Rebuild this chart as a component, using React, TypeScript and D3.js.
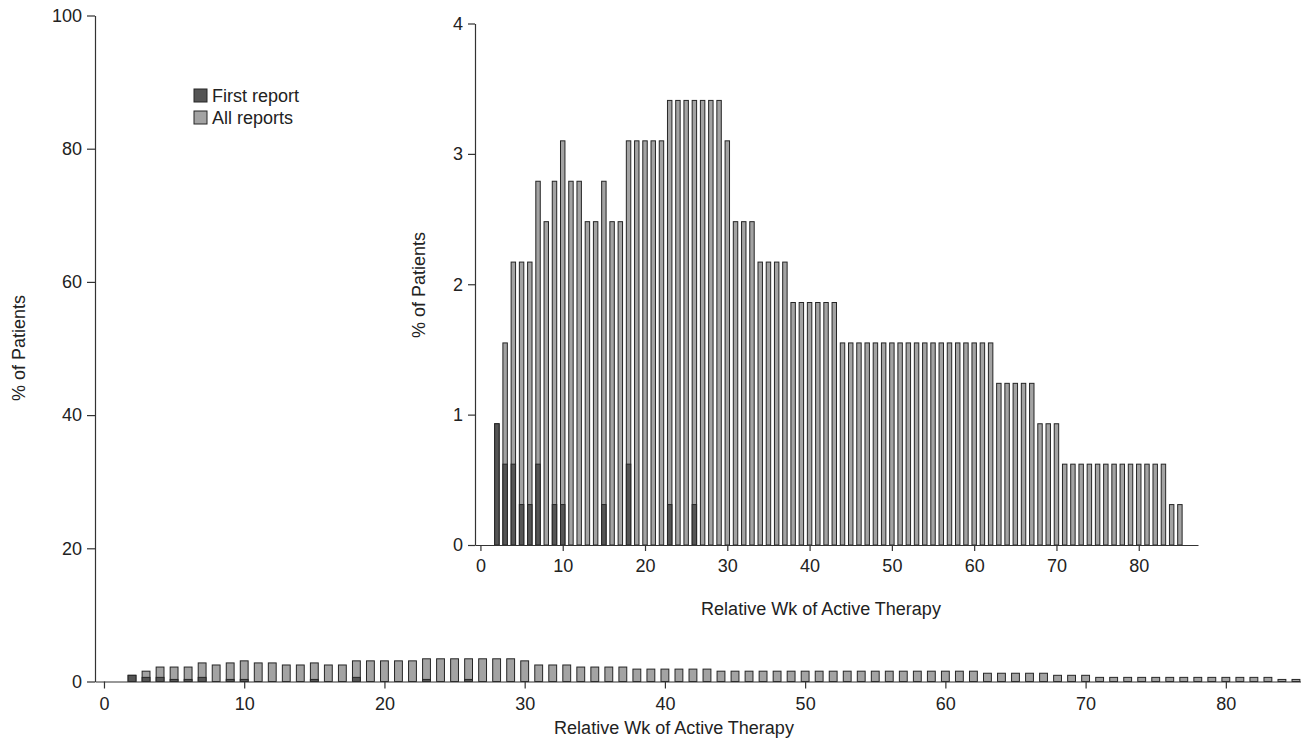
import * as d3 from "d3";
import { useEffect, useRef } from "react";

// weekly % of patients, weeks 2..85
const firstWeek = 2;
const allReports = [
  0.93, 1.55, 2.17, 2.17, 2.17, 2.79, 2.48, 2.79, 3.1, 2.79, 2.79, 2.48, 2.48, 2.79, 2.48, 2.48,
  3.1, 3.1, 3.1, 3.1, 3.1, 3.41, 3.41, 3.41, 3.41, 3.41, 3.41, 3.41, 3.1, 2.48, 2.48, 2.48,
  2.17, 2.17, 2.17, 2.17, 1.86, 1.86, 1.86, 1.86, 1.86, 1.86,
  1.55, 1.55, 1.55, 1.55, 1.55, 1.55, 1.55, 1.55, 1.55, 1.55, 1.55, 1.55, 1.55, 1.55, 1.55, 1.55,
  1.55, 1.55, 1.55, 1.24, 1.24, 1.24, 1.24, 1.24, 0.93, 0.93, 0.93,
  0.62, 0.62, 0.62, 0.62, 0.62, 0.62, 0.62, 0.62, 0.62, 0.62, 0.62, 0.62, 0.62, 0.31, 0.31,
];
const firstReport = [
  0.93, 0.62, 0.62, 0.31, 0.31, 0.62, 0, 0.31, 0.31, 0, 0, 0, 0, 0.31, 0, 0,
  0.62, 0, 0, 0, 0, 0.31, 0, 0, 0.31, 0, 0, 0, 0, 0, 0, 0,
  0, 0, 0, 0, 0, 0, 0, 0, 0, 0,
  0, 0, 0, 0, 0, 0, 0, 0, 0, 0, 0, 0, 0, 0, 0, 0,
  0, 0, 0, 0, 0, 0, 0, 0, 0, 0, 0,
  0, 0, 0, 0, 0, 0, 0, 0, 0, 0, 0, 0, 0, 0, 0,
];
const seriesNames = ["First report", "All reports"];
const xTicks = [0, 10, 20, 30, 40, 50, 60, 70, 80];
const mainYTicks = [0, 20, 40, 60, 80, 100];
const insetYTicks = [0, 1, 2, 3, 4];
const xTitle = "Relative Wk of Active Therapy";
const yTitle = "% of Patients";

const FONT = "'Liberation Sans', Arial, Helvetica, sans-serif";
const ALL_FILL = "#a3a3a3";
const FIRST_FILL = "#555555";
const STROKE = "#262626";
const INK = "#222222";

type Panel = {
  xDomain: [number, number];
  xRange: [number, number];
  yDomain: [number, number];
  yRange: [number, number];
  yTicks: number[];
  barWidth: number;
  xTickSize: number;
  xTickPadding: number;
  yTickSize: number;
  yTickPadding: number;
  xTitlePos: [number, number];
  yTitlePos: [number, number];
};

function styleAxis(g) {
  g.attr("font-family", FONT).attr("font-size", 18);
  g.selectAll("path").attr("stroke", "#333").attr("stroke-width", 1.2);
  g.selectAll("line").attr("stroke", "#333").attr("stroke-width", 1.2);
  g.selectAll("text").attr("fill", INK);
}

function drawPanel(g, p: Panel) {
  const x = d3.scaleLinear().domain(p.xDomain).range(p.xRange);
  const y = d3.scaleLinear().domain(p.yDomain).range(p.yRange);
  const bw = x(p.barWidth) - x(0);
  const rows = allReports.map((v, i) => ({ week: firstWeek + i, all: v, first: firstReport[i] }));

  g.append("g")
    .selectAll("rect")
    .data(rows)
    .join("rect")
    .attr("x", (d) => x(d.week) - bw / 2)
    .attr("y", (d) => y(d.all))
    .attr("width", bw)
    .attr("height", (d) => y(0) - y(d.all))
    .attr("fill", ALL_FILL)
    .attr("stroke", STROKE)
    .attr("stroke-width", 1);

  g.append("g")
    .selectAll("rect")
    .data(rows.filter((d) => d.first > 0))
    .join("rect")
    .attr("x", (d) => x(d.week) - bw / 2)
    .attr("y", (d) => y(d.first))
    .attr("width", bw)
    .attr("height", (d) => y(0) - y(d.first))
    .attr("fill", FIRST_FILL)
    .attr("stroke", STROKE)
    .attr("stroke-width", 1);

  g.append("g")
    .attr("transform", `translate(0,${p.yRange[0]})`)
    .call(
      d3
        .axisBottom(x)
        .tickValues(xTicks)
        .tickFormat(d3.format("d"))
        .tickSize(p.xTickSize)
        .tickPadding(p.xTickPadding)
        .tickSizeOuter(0)
    )
    .call(styleAxis);

  g.append("g")
    .attr("transform", `translate(${p.xRange[0]},0)`)
    .call(
      d3
        .axisLeft(y)
        .tickValues(p.yTicks)
        .tickFormat(d3.format("d"))
        .tickSize(p.yTickSize)
        .tickPadding(p.yTickPadding)
        .tickSizeOuter(0)
    )
    .call(styleAxis);

  g.append("text")
    .attr("x", p.xTitlePos[0])
    .attr("y", p.xTitlePos[1])
    .attr("text-anchor", "middle")
    .attr("font-family", FONT)
    .attr("font-size", 18)
    .attr("fill", INK)
    .text(xTitle);

  g.append("text")
    .attr("transform", `translate(${p.yTitlePos[0]},${p.yTitlePos[1]}) rotate(-90)`)
    .attr("dy", "0.35em")
    .attr("text-anchor", "middle")
    .attr("font-family", FONT)
    .attr("font-size", 18)
    .attr("fill", INK)
    .text(yTitle);
}

function drawChart(svgElement) {
  const width = 1301;
  const height = 742;
  const svg = d3.select(svgElement);
  svg.selectAll("*").remove();
  svg.attr("width", width).attr("height", height).attr("viewBox", `0 0 ${width} ${height}`);

  drawPanel(svg.append("g"), {
    xDomain: [-0.64, 85.36],
    xRange: [95, 1301],
    yDomain: [0, 100],
    yRange: [681.5, 15.5],
    yTicks: mainYTicks,
    barWidth: 0.56,
    xTickSize: 7,
    xTickPadding: 9,
    yTickSize: 8,
    yTickPadding: 5,
    xTitlePos: [674, 734],
    yTitlePos: [19, 348],
  });

  drawPanel(svg.append("g"), {
    xDomain: [-0.66, 87.2],
    xRange: [475, 1198],
    yDomain: [0, 4],
    yRange: [545, 23.5],
    yTicks: insetYTicks,
    barWidth: 0.54,
    xTickSize: 6,
    xTickPadding: 8,
    yTickSize: 7,
    yTickPadding: 5,
    xTitlePos: [821, 615],
    yTitlePos: [419, 285],
  });

  const legend = svg.append("g").attr("transform", "translate(194,89)");
  const fills = [FIRST_FILL, ALL_FILL];
  const item = legend
    .selectAll("g")
    .data(seriesNames)
    .join("g")
    .attr("transform", (_, i) => `translate(0,${i * 22})`);
  item
    .append("rect")
    .attr("width", 13)
    .attr("height", 13)
    .attr("fill", (_, i) => fills[i])
    .attr("stroke", STROKE)
    .attr("stroke-width", 1);
  item
    .append("text")
    .attr("x", 18)
    .attr("y", 13)
    .attr("font-family", FONT)
    .attr("font-size", 18)
    .attr("fill", INK)
    .text((d) => d);
}

export default function App() {
  const svgRef = useRef(null);

  useEffect(() => {
    drawChart(svgRef.current);
  }, []);

  return (
    <div style={{ position: "absolute", left: 0, top: 0 }}>
      <svg ref={svgRef} style={{ display: "block" }} role="img" aria-label="% of Patients by relative week of active therapy" />
    </div>
  );
}
